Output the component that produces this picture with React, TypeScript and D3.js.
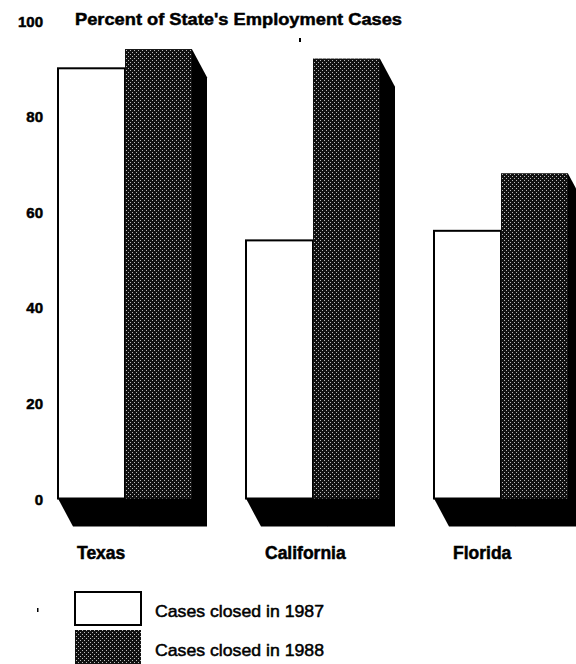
import React from "react";
import * as d3 from "d3";

const categories = ["Texas", "California", "Florida"];
const series = ["Cases closed in 1987", "Cases closed in 1988"];
const cases1987 = [90, 54, 56];
const cases1988 = [94, 92, 68];
const yTicks = [0, 20, 40, 60, 80, 100];
const title = "Percent of State's Employment Cases";

const W = 576;
const H = 664;
const DX = 15;
const DY = 28;

export default function App() {
  const y = d3.scaleLinear().domain([0, 100]).range([498.5, 20.5]);
  const x = d3.scaleBand<string>().domain(categories).range([58, 58 + 3 * 188]).padding(0);
  const inner = d3.scaleBand<string>().domain(series).range([0, 134]).padding(0);
  const bw = inner.bandwidth();
  const font = "'Liberation Sans', Arial, Helvetica, sans-serif";

  const bars: { x0: number; x1: number; yTop: number; dark: boolean; key: string }[] = [];
  categories.forEach((c, i) => {
    [cases1987[i], cases1988[i]].forEach((v, j) => {
      const x0 = (x(c) as number) + (inner(series[j]) as number);
      bars.push({ x0, x1: x0 + bw, yTop: y(v), dark: j === 1, key: c + j });
    });
  });
  const y0 = y(0);

  const shadow = (b: typeof bars[number]) =>
    [
      [b.x0, b.yTop],
      [b.x1, b.yTop],
      [b.x1 + DX, b.yTop + DY],
      [b.x1 + DX, y0 + DY],
      [b.x0 + DX, y0 + DY],
      [b.x0, y0],
    ]
      .map((p) => p.join(","))
      .join(" ");

  return (
    <svg
      width={W}
      height={H}
      viewBox={`0 0 ${W} ${H}`}
      style={{ position: "absolute", left: 0, top: 0, background: "#fff" }}
    >
      <defs>
        <pattern id="stipple" width="4" height="4" patternUnits="userSpaceOnUse">
          <rect width="4" height="4" fill="#111" />
          <rect x="0" y="0" width="1" height="1" fill="#bbb" />
          <rect x="2" y="2" width="1" height="1" fill="#bbb" />
        </pattern>
      </defs>
      <rect width={W} height={H} fill="#fff" />

      {/* title */}
      <text
        x={75}
        y={25}
        fontFamily={font}
        fontWeight="bold"
        fontSize={17}
        fill="#000"
        stroke="#000"
        strokeWidth={0.5}
        textLength={327}
        lengthAdjust="spacingAndGlyphs"
      >
        {title}
      </text>

      {/* y tick labels */}
      {yTicks.map((t) => (
        <text
          key={t}
          x={43}
          y={y(t) + 6}
          textAnchor="end"
          fontFamily={font}
          fontWeight="bold"
          fontSize={15}
          fill="#000"
          stroke="#000"
          strokeWidth={0.5}
        >
          {t}
        </text>
      ))}

      {/* shadows / extrusions */}
      {bars.map((b) => (
        <polygon key={"s" + b.key} points={shadow(b)} fill="#000" />
      ))}

      {/* front faces */}
      {bars.map((b) =>
        b.dark ? (
          <rect key={"f" + b.key} x={b.x0} y={b.yTop} width={bw} height={y0 - b.yTop} fill="url(#stipple)" />
        ) : (
          <rect
            key={"f" + b.key}
            x={b.x0}
            y={b.yTop}
            width={bw}
            height={y0 - b.yTop}
            fill="#fff"
            stroke="#000"
            strokeWidth={2}
          />
        )
      )}

      {/* category labels */}
      {categories.map((c) => (
        <text
          key={c}
          x={(x(c) as number) + 19}
          y={559}
          fontFamily={font}
          fontWeight="bold"
          fontSize={17.5}
          fill="#000"
          stroke="#000"
          strokeWidth={0.5}
        >
          {c}
        </text>
      ))}

      {/* legend */}
      <rect x={75} y={592} width={66} height={33} fill="#fff" stroke="#000" strokeWidth={2} />
      <rect x={75} y={630} width={66} height={36} fill="url(#stipple)" />
      {series.map((s, i) => (
        <text
          key={s}
          x={155}
          y={617 + i * 39}
          fontFamily={font}
          fontSize={17}
          fill="#000"
          stroke="#000"
          strokeWidth={0.5}
          textLength={169}
          lengthAdjust="spacingAndGlyphs"
        >
          {s}
        </text>
      ))}

      {/* scan specks */}
      <rect x={299} y={38} width={2} height={4} fill="#000" />
      <rect x={37} y={608} width={1.5} height={4} fill="#000" />
    </svg>
  );
}
